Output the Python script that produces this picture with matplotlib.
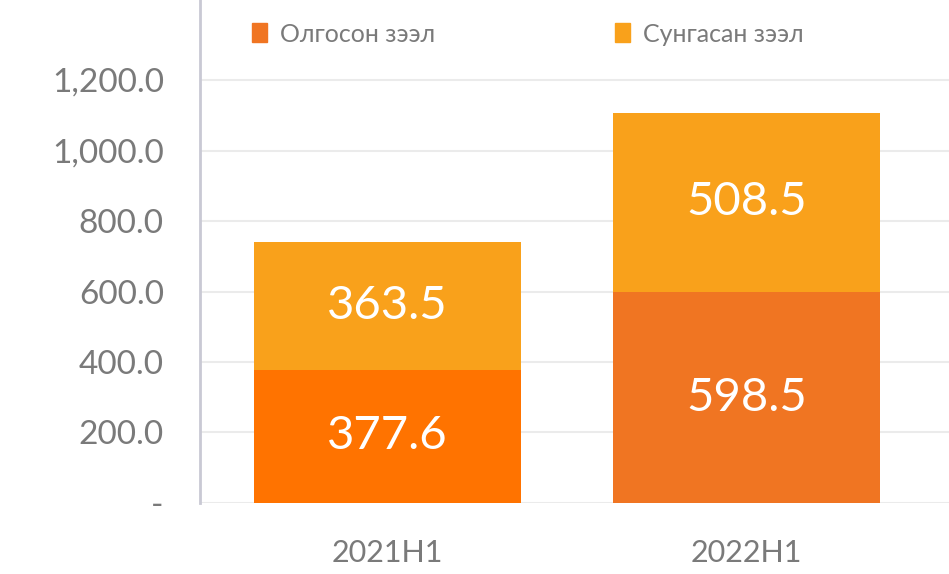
import matplotlib
matplotlib.use("Agg")
import matplotlib.pyplot as plt
from matplotlib.ticker import FuncFormatter
from matplotlib.patches import Patch

plt.rcParams['font.family'] = ['Lato', 'DejaVu Sans']

categories = ["2021H1", "2022H1"]
granted = [377.6, 598.5]      # Олгосон зээл
extended = [363.5, 508.5]     # Сунгасан зээл
series_names = ["Олгосон зээл", "Сунгасан зээл"]
y_ticks = [0, 200, 400, 600, 800, 1000, 1200]

GRANTED_COLORS = ["#FF7300", "#F07522"]
EXTENDED_COLOR = "#F9A11B"
TEXT_GRAY = "#7a7a7a"


def fmt(v, pos=None):
    if v == 0:
        return "-"
    return f"{v:,.1f}"


def main():
    fig = plt.figure(figsize=(9.49, 5.74), dpi=100)
    ax = fig.add_axes([0.2107, 0.1237, 0.7893, 0.8763])

    x = list(range(len(categories)))
    width = 0.744
    b1 = ax.bar(x, granted, width, color=GRANTED_COLORS, zorder=3,
                label=series_names[0])
    b2 = ax.bar(x, extended, width, bottom=granted, color=EXTENDED_COLOR,
                zorder=3, label=series_names[1])

    for rect, v in zip(b1, granted):
        ax.text(rect.get_x() + rect.get_width() / 2, v / 2, f"{v:.1f}",
                ha="center", va="center", color="white", fontsize=34,
                zorder=4)
    for rect, base, v in zip(b2, granted, extended):
        ax.text(rect.get_x() + rect.get_width() / 2, base + v / 2, f"{v:.1f}",
                ha="center", va="center", color="white", fontsize=34,
                zorder=4)

    ax.set_xlim(-0.522, 1.564)
    ax.set_ylim(0, 1427)
    ax.set_yticks(y_ticks)
    ax.yaxis.set_major_formatter(FuncFormatter(fmt))
    ax.set_xticks(x)
    ax.set_xticklabels(categories)

    ax.grid(axis="y", color="#ebebeb", linewidth=1.5, zorder=0)
    for s in ["top", "right", "bottom"]:
        ax.spines[s].set_visible(False)
    ax.spines["left"].set_color("#c9c9d4")
    ax.spines["left"].set_linewidth(2)

    ax.tick_params(axis="y", length=0, pad=26, labelsize=24, labelcolor=TEXT_GRAY)
    ax.tick_params(axis="x", length=0, pad=26, labelsize=22, labelcolor=TEXT_GRAY)

    handles = [Patch(color=GRANTED_COLORS[1]), Patch(color=EXTENDED_COLOR)]
    leg = ax.legend(handles, series_names, ncol=2, frameon=False,
                    loc="upper left", bbox_to_anchor=(0.04, 1.0),
                    fontsize=18, handlelength=0.6, handleheight=0.8,
                    handletextpad=0.5, columnspacing=7.2)
    for t in leg.get_texts():
        t.set_color(TEXT_GRAY)

    fig.savefig("out.png", dpi=100)


if __name__ == '__main__':
    main()
